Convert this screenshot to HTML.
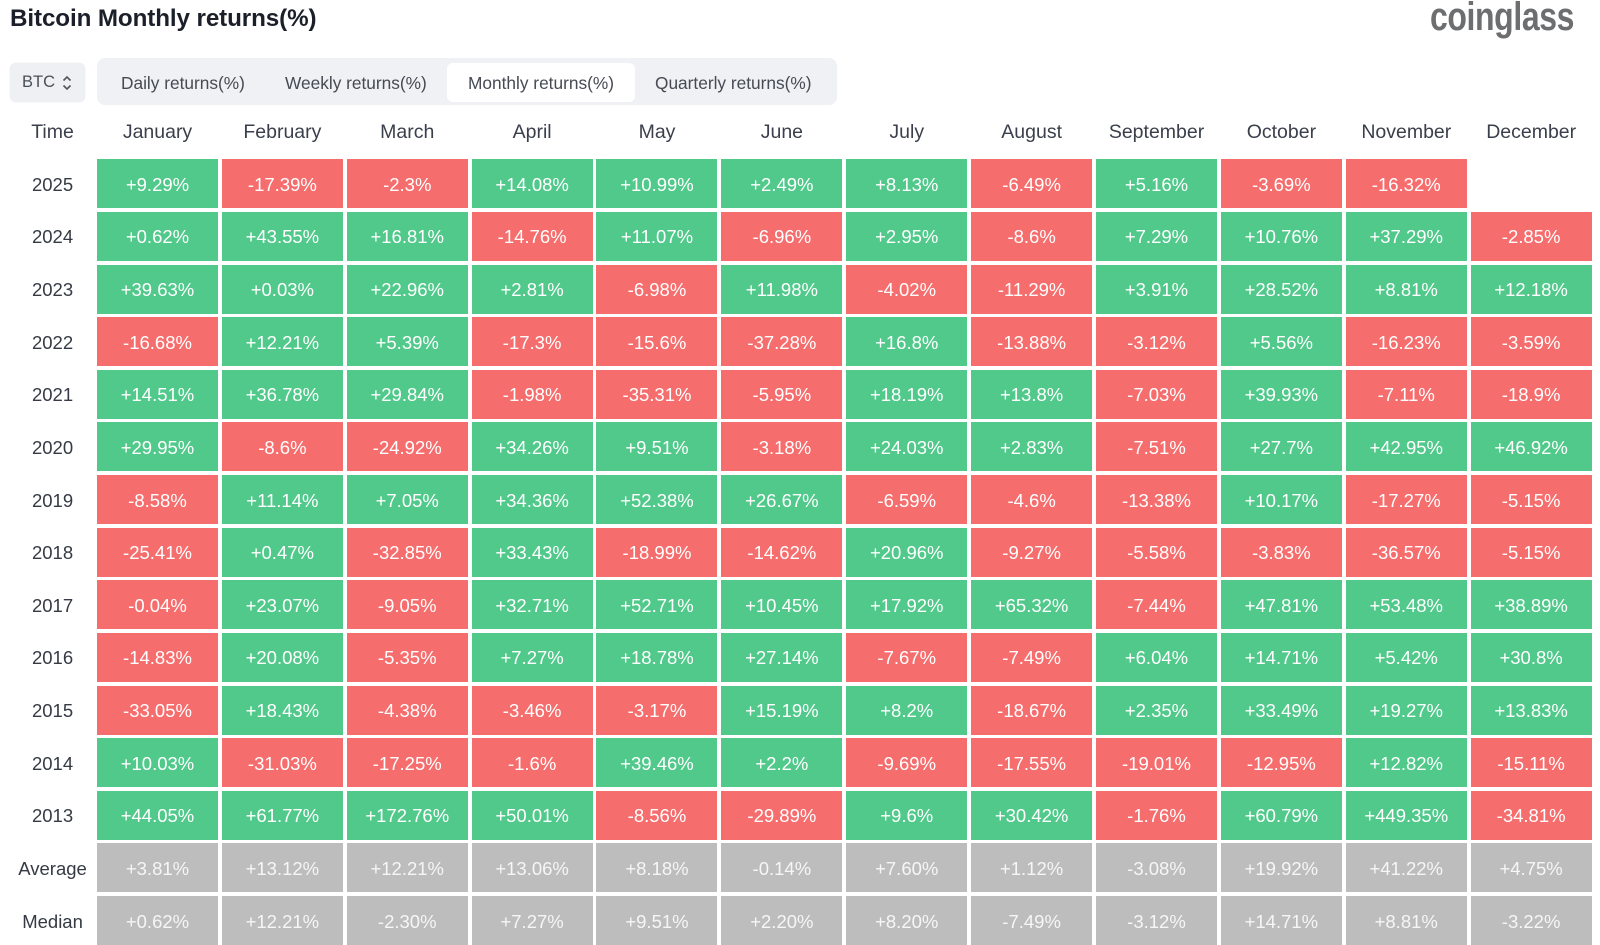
<!DOCTYPE html>
<html><head><meta charset="utf-8"><style>
*{margin:0;padding:0;box-sizing:border-box}
html,body{width:1600px;height:945px;overflow:hidden;background:#fff;font-family:"Liberation Sans",sans-serif}
.title{position:absolute;left:10px;top:5px;font-size:24.2px;font-weight:bold;color:#1b1f29;white-space:nowrap;letter-spacing:-0.1px}
.logo{position:absolute;left:1430px;top:-5px;font-size:40px;font-weight:bold;color:#6d6e70;transform:scaleX(0.8);transform-origin:0 0;white-space:nowrap;letter-spacing:-0.5px}
.sel{position:absolute;left:10px;top:63px;width:75px;height:39px;background:#eef0f3;border-radius:6px;box-shadow:0 0 1px rgba(0,0,0,0.15);font-size:16.5px;color:#4a4f58}
.sel span{position:absolute;left:12px;top:10px}
.sel svg{position:absolute;left:52px;top:11px}
.tabs{position:absolute;left:97px;top:58px;width:740px;height:47px;background:#eff1f4;border-radius:8px}
.tab{position:absolute;top:5px;height:39px;line-height:40px;font-size:17.3px;color:#454a53;white-space:nowrap}
.act{background:#fff;border-radius:6px}
.hdr{position:absolute;top:117px;height:30px;line-height:30px;font-size:19.5px;color:#3a3f4b;text-align:center}
.grid{position:absolute;left:0;top:159.3px;display:grid;grid-template-columns:93.12px repeat(12,121px);grid-template-rows:repeat(15,49px);column-gap:3.88px;row-gap:3.64px}
.grid div{display:flex;align-items:center;justify-content:center;font-size:18.5px;color:#fff;padding-top:2px}
.grid .l{color:#353a44;padding-left:12px}
.g{background:#50c98b}
.r{background:#f66d6d}
.a{background:#bdbdbd;color:#f6f6f6 !important}
.e{background:#fff}
</style></head><body>
<div class="title">Bitcoin Monthly returns(%)</div>
<div class="logo">coinglass</div>
<div class="sel"><span>BTC</span><svg width="10" height="18" viewBox="0 0 10 18"><path d="M1.5 6.5 L5 3 L8.5 6.5" fill="none" stroke="#555" stroke-width="1.6"/><path d="M1.5 11.5 L5 15 L8.5 11.5" fill="none" stroke="#555" stroke-width="1.6"/></svg></div>
<div class="tabs">
<div class="tab" style="left:24px">Daily returns(%)</div>
<div class="tab" style="left:188px">Weekly returns(%)</div>
<div class="tab act" style="left:350px;width:188px;text-align:center">Monthly returns(%)</div>
<div class="tab" style="left:558px">Quarterly returns(%)</div>
</div>
<div class="hdr" style="left:12px;width:81px">Time</div>
<div class="hdr" style="left:97px;width:121px">January</div>
<div class="hdr" style="left:221.88px;width:121px">February</div>
<div class="hdr" style="left:346.76px;width:121px">March</div>
<div class="hdr" style="left:471.64px;width:121px">April</div>
<div class="hdr" style="left:596.52px;width:121px">May</div>
<div class="hdr" style="left:721.4px;width:121px">June</div>
<div class="hdr" style="left:846.28px;width:121px">July</div>
<div class="hdr" style="left:971.16px;width:121px">August</div>
<div class="hdr" style="left:1096.04px;width:121px">September</div>
<div class="hdr" style="left:1220.92px;width:121px">October</div>
<div class="hdr" style="left:1345.8px;width:121px">November</div>
<div class="hdr" style="left:1470.68px;width:121px">December</div>
<div class="grid">
<div class="l">2025</div><div class="g">+9.29%</div><div class="r">-17.39%</div><div class="r">-2.3%</div><div class="g">+14.08%</div><div class="g">+10.99%</div><div class="g">+2.49%</div><div class="g">+8.13%</div><div class="r">-6.49%</div><div class="g">+5.16%</div><div class="r">-3.69%</div><div class="r">-16.32%</div><div class="e"></div>
<div class="l">2024</div><div class="g">+0.62%</div><div class="g">+43.55%</div><div class="g">+16.81%</div><div class="r">-14.76%</div><div class="g">+11.07%</div><div class="r">-6.96%</div><div class="g">+2.95%</div><div class="r">-8.6%</div><div class="g">+7.29%</div><div class="g">+10.76%</div><div class="g">+37.29%</div><div class="r">-2.85%</div>
<div class="l">2023</div><div class="g">+39.63%</div><div class="g">+0.03%</div><div class="g">+22.96%</div><div class="g">+2.81%</div><div class="r">-6.98%</div><div class="g">+11.98%</div><div class="r">-4.02%</div><div class="r">-11.29%</div><div class="g">+3.91%</div><div class="g">+28.52%</div><div class="g">+8.81%</div><div class="g">+12.18%</div>
<div class="l">2022</div><div class="r">-16.68%</div><div class="g">+12.21%</div><div class="g">+5.39%</div><div class="r">-17.3%</div><div class="r">-15.6%</div><div class="r">-37.28%</div><div class="g">+16.8%</div><div class="r">-13.88%</div><div class="r">-3.12%</div><div class="g">+5.56%</div><div class="r">-16.23%</div><div class="r">-3.59%</div>
<div class="l">2021</div><div class="g">+14.51%</div><div class="g">+36.78%</div><div class="g">+29.84%</div><div class="r">-1.98%</div><div class="r">-35.31%</div><div class="r">-5.95%</div><div class="g">+18.19%</div><div class="g">+13.8%</div><div class="r">-7.03%</div><div class="g">+39.93%</div><div class="r">-7.11%</div><div class="r">-18.9%</div>
<div class="l">2020</div><div class="g">+29.95%</div><div class="r">-8.6%</div><div class="r">-24.92%</div><div class="g">+34.26%</div><div class="g">+9.51%</div><div class="r">-3.18%</div><div class="g">+24.03%</div><div class="g">+2.83%</div><div class="r">-7.51%</div><div class="g">+27.7%</div><div class="g">+42.95%</div><div class="g">+46.92%</div>
<div class="l">2019</div><div class="r">-8.58%</div><div class="g">+11.14%</div><div class="g">+7.05%</div><div class="g">+34.36%</div><div class="g">+52.38%</div><div class="g">+26.67%</div><div class="r">-6.59%</div><div class="r">-4.6%</div><div class="r">-13.38%</div><div class="g">+10.17%</div><div class="r">-17.27%</div><div class="r">-5.15%</div>
<div class="l">2018</div><div class="r">-25.41%</div><div class="g">+0.47%</div><div class="r">-32.85%</div><div class="g">+33.43%</div><div class="r">-18.99%</div><div class="r">-14.62%</div><div class="g">+20.96%</div><div class="r">-9.27%</div><div class="r">-5.58%</div><div class="r">-3.83%</div><div class="r">-36.57%</div><div class="r">-5.15%</div>
<div class="l">2017</div><div class="r">-0.04%</div><div class="g">+23.07%</div><div class="r">-9.05%</div><div class="g">+32.71%</div><div class="g">+52.71%</div><div class="g">+10.45%</div><div class="g">+17.92%</div><div class="g">+65.32%</div><div class="r">-7.44%</div><div class="g">+47.81%</div><div class="g">+53.48%</div><div class="g">+38.89%</div>
<div class="l">2016</div><div class="r">-14.83%</div><div class="g">+20.08%</div><div class="r">-5.35%</div><div class="g">+7.27%</div><div class="g">+18.78%</div><div class="g">+27.14%</div><div class="r">-7.67%</div><div class="r">-7.49%</div><div class="g">+6.04%</div><div class="g">+14.71%</div><div class="g">+5.42%</div><div class="g">+30.8%</div>
<div class="l">2015</div><div class="r">-33.05%</div><div class="g">+18.43%</div><div class="r">-4.38%</div><div class="r">-3.46%</div><div class="r">-3.17%</div><div class="g">+15.19%</div><div class="g">+8.2%</div><div class="r">-18.67%</div><div class="g">+2.35%</div><div class="g">+33.49%</div><div class="g">+19.27%</div><div class="g">+13.83%</div>
<div class="l">2014</div><div class="g">+10.03%</div><div class="r">-31.03%</div><div class="r">-17.25%</div><div class="r">-1.6%</div><div class="g">+39.46%</div><div class="g">+2.2%</div><div class="r">-9.69%</div><div class="r">-17.55%</div><div class="r">-19.01%</div><div class="r">-12.95%</div><div class="g">+12.82%</div><div class="r">-15.11%</div>
<div class="l">2013</div><div class="g">+44.05%</div><div class="g">+61.77%</div><div class="g">+172.76%</div><div class="g">+50.01%</div><div class="r">-8.56%</div><div class="r">-29.89%</div><div class="g">+9.6%</div><div class="g">+30.42%</div><div class="r">-1.76%</div><div class="g">+60.79%</div><div class="g">+449.35%</div><div class="r">-34.81%</div>
<div class="l">Average</div><div class="a">+3.81%</div><div class="a">+13.12%</div><div class="a">+12.21%</div><div class="a">+13.06%</div><div class="a">+8.18%</div><div class="a">-0.14%</div><div class="a">+7.60%</div><div class="a">+1.12%</div><div class="a">-3.08%</div><div class="a">+19.92%</div><div class="a">+41.22%</div><div class="a">+4.75%</div>
<div class="l">Median</div><div class="a">+0.62%</div><div class="a">+12.21%</div><div class="a">-2.30%</div><div class="a">+7.27%</div><div class="a">+9.51%</div><div class="a">+2.20%</div><div class="a">+8.20%</div><div class="a">-7.49%</div><div class="a">-3.12%</div><div class="a">+14.71%</div><div class="a">+8.81%</div><div class="a">-3.22%</div>
</div>
</body></html>
